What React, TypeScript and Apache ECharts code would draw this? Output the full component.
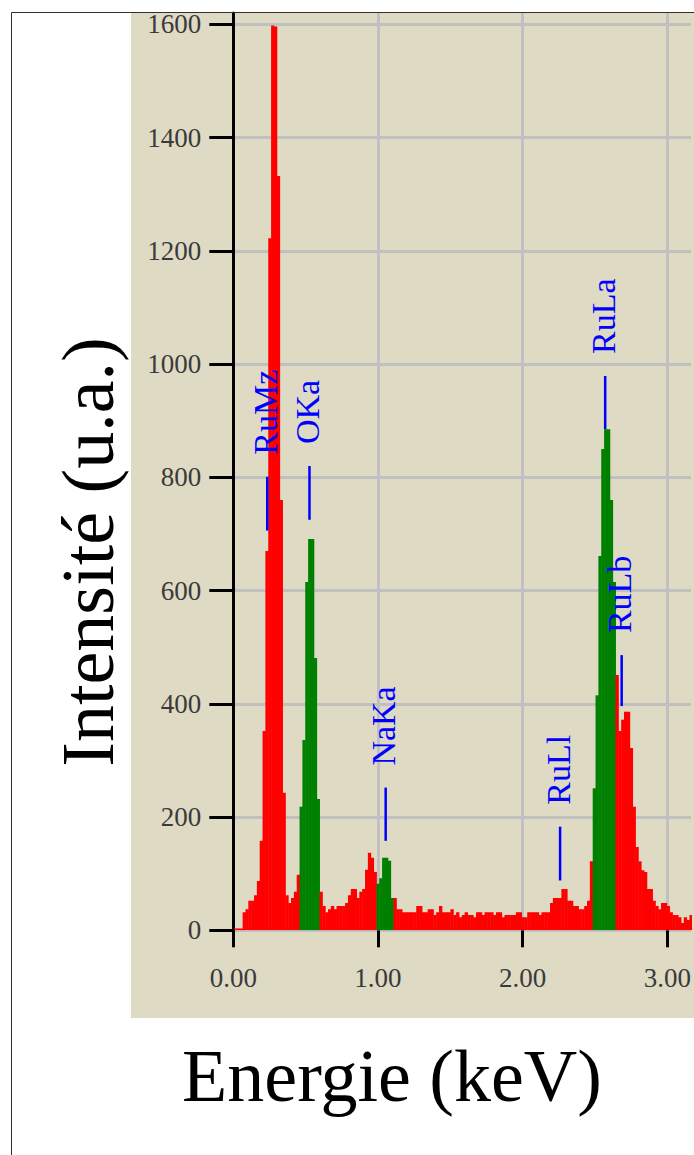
import React, { useEffect, useRef } from "react";
import * as echarts from "echarts";

// ---- data -----------------------------------------------------------------
// EDS spectrum: channel start energy and channel width (keV)
const CHANNEL_START_KEV = 0.0055;
const CHANNEL_WIDTH_KEV = 0.01967;

// counts per channel
const spectrumCounts: number[] = [
  3, 3, 3, 32, 37, 52, 52, 62, 87, 158,
  352, 670, 1222, 1598, 1596, 1332, 760, 243, 62, 48,
  57, 68, 98, 218, 336, 615, 691, 691, 481, 232,
  68, 43, 32, 37, 43, 37, 43, 43, 43, 48,
  62, 73, 73, 57, 68, 73, 107, 137, 128, 103,
  82, 92, 128, 128, 123, 57, 57, 37, 37, 32,
  32, 32, 32, 32, 43, 43, 32, 32, 37, 37,
  27, 32, 43, 32, 32, 32, 37, 27, 32, 23,
  27, 32, 27, 27, 23, 32, 32, 27, 32, 32,
  32, 27, 32, 32, 23, 27, 27, 27, 27, 32,
  32, 23, 23, 32, 32, 32, 32, 27, 32, 32,
  32, 48, 57, 57, 57, 73, 73, 52, 52, 43,
  43, 37, 37, 43, 52, 122, 251, 415, 661, 850,
  885, 885, 760, 615, 451, 352, 372, 386, 386, 322,
  218, 147, 122, 106, 103, 73, 73, 52, 43, 37,
  48, 48, 43, 32, 27, 27, 23, 13, 23, 18,
  27,
];

// channel index windows of the highlighted (integrated) peaks
const peakWindowStart = [23, 50, 126];
const peakWindowEnd = [29, 55, 133];

// element line markers
const markerNames = ["RuMz", "OKa", "NaKa", "RuLl", "RuLa", "RuLb"];
const markerEnergies = [0.2348, 0.5265, 1.0531, 2.2585, 2.5702, 2.6842];
const markerLow = [706, 725, 158, 88, 885, 396];
const markerHigh = [801, 820, 252, 183, 979, 486];

// axes
const yTicks = [0, 200, 400, 600, 800, 1000, 1200, 1400, 1600];
const xTicks = [0, 1, 2, 3];
const Y_MAX = 1620;
const X_MAX = 3.1627;

const SERIF = '"Liberation Serif", "Times New Roman", serif';
const GRID_GRAY = "#c0c0c0";
const NONE = "rgba(0,0,0,0)";

export default function App() {
  const ref = useRef<HTMLDivElement>(null);

  useEffect(() => {
    if (!ref.current) return;
    document.body.style.margin = "0";
    const chart = echarts.init(ref.current, undefined, { renderer: "svg" });

    const inWindow = (i: number) =>
      peakWindowStart.some((s, k) => i >= s && i <= peakWindowEnd[k]);

    const spectrumData = spectrumCounts.map((c, i) => [
      CHANNEL_START_KEV + i * CHANNEL_WIDTH_KEV,
      CHANNEL_START_KEV + (i + 1) * CHANNEL_WIDTH_KEV,
      c,
      inWindow(i) ? 1 : 0,
    ]);

    const markerData = markerEnergies.map((e, i) => [e, markerLow[i], markerHigh[i]]);

    // grid line colours: gray on labelled ticks, none on the axis-extent end
    const xGridColors = [...xTicks.map(() => GRID_GRAY), NONE];
    const yGridColors = [...yTicks.map(() => GRID_GRAY), NONE];

    const option: any = {
      animation: false,
      backgroundColor: "#ffffff",
      grid: {
        left: 233.3,
        top: 13,
        right: 0,
        height: 917.3,
        containLabel: false,
      },
      xAxis: {
        type: "value",
        min: 0,
        max: X_MAX,
        interval: 1,
        axisLine: { show: false },
        axisTick: {
          show: true,
          customValues: xTicks,
          length: 17,
          lineStyle: { color: "#000000", width: 3 },
        },
        axisLabel: {
          customValues: xTicks,
          margin: 34,
          formatter: (v: number) => v.toFixed(2),
          fontFamily: SERIF,
          fontSize: 27,
          color: "#3a3a3a",
        },
        splitLine: { show: true, lineStyle: { color: xGridColors, width: 3 } },
      },
      yAxis: {
        type: "value",
        min: 0,
        max: Y_MAX,
        interval: 200,
        axisLine: { show: true, lineStyle: { color: "#000000", width: 3 } },
        axisTick: {
          show: true,
          customValues: yTicks,
          length: 24,
          lineStyle: { color: "#000000", width: 3 },
        },
        axisLabel: {
          customValues: yTicks,
          margin: 32,
          formatter: (v: number) => String(v),
          fontFamily: SERIF,
          fontSize: 27,
          color: "#3a3a3a",
          padding: [6, 0, 0, 0],
        },
        splitLine: { show: true, lineStyle: { color: yGridColors, width: 3 } },
      },
      graphic: [
        {
          type: "rect",
          z: -100,
          silent: true,
          shape: { x: 131, y: 13, width: 600, height: 1005 },
          style: { fill: "#dfdac4" },
        },
        {
          type: "rect",
          z: 100,
          silent: true,
          shape: { x: 11.5, y: 12.5, width: 800, height: 1300 },
          style: { fill: "none", stroke: "#303030", lineWidth: 1 },
        },
        {
          type: "text",
          z: 100,
          x: 88,
          y: 552,
          rotation: Math.PI / 2,
          style: {
            text: "Intensité (u.a.)",
            font: `74px ${SERIF}`,
            fill: "#000000",
            textAlign: "center",
            textVerticalAlign: "middle",
            align: "center",
            verticalAlign: "middle",
          },
        },
        {
          type: "text",
          z: 100,
          x: 392,
          y: 1076,
          style: {
            text: "Energie (keV)",
            font: `74px ${SERIF}`,
            fill: "#000000",
            textAlign: "center",
            textVerticalAlign: "middle",
            align: "center",
            verticalAlign: "middle",
          },
        },
      ],
      series: [
        {
          type: "custom",
          name: "spectrum",
          clip: true,
          z: 2,
          encode: { x: [0, 1], y: 2 },
          data: spectrumData,
          renderItem: (params: any, api: any) => {
            const e0 = api.value(0);
            const e1 = api.value(1);
            const v = api.value(2);
            const g = api.value(3);
            const p0 = api.coord([e0, v]);
            const p1 = api.coord([e1, 0]);
            return {
              type: "rect",
              shape: {
                x: p0[0],
                y: p0[1],
                width: p1[0] - p0[0] + 0.5,
                height: p1[1] - p0[1],
              },
              style: { fill: g ? "#008000" : "#ff0000" },
            };
          },
        },
        {
          type: "custom",
          name: "markers",
          clip: false,
          z: 5,
          encode: { x: 0, y: [1, 2] },
          data: markerData,
          renderItem: (params: any, api: any) => {
            const e = api.value(0);
            const lo = api.coord([e, api.value(1)]);
            const hi = api.coord([e, api.value(2)]);
            const name = markerNames[params.dataIndex];
            return {
              type: "group",
              children: [
                {
                  type: "line",
                  shape: { x1: lo[0], y1: lo[1], x2: hi[0], y2: hi[1] },
                  style: { stroke: "#0000ff", lineWidth: 2.5 },
                },
                {
                  type: "text",
                  x: hi[0] - 2,
                  y: hi[1] - 22,
                  rotation: Math.PI / 2,
                  style: {
                    text: name,
                    font: `34px ${SERIF}`,
                    fill: "#0000ff",
                    textAlign: "left",
                    textVerticalAlign: "middle",
                    align: "left",
                    verticalAlign: "middle",
                  },
                },
              ],
            };
          },
        },
      ],
    };

    chart.setOption(option);
    return () => {
      chart.dispose();
    };
  }, []);

  return (
    <div
      ref={ref}
      style={{ position: "absolute", left: 0, top: 0, width: 694, height: 1155 }}
    />
  );
}
